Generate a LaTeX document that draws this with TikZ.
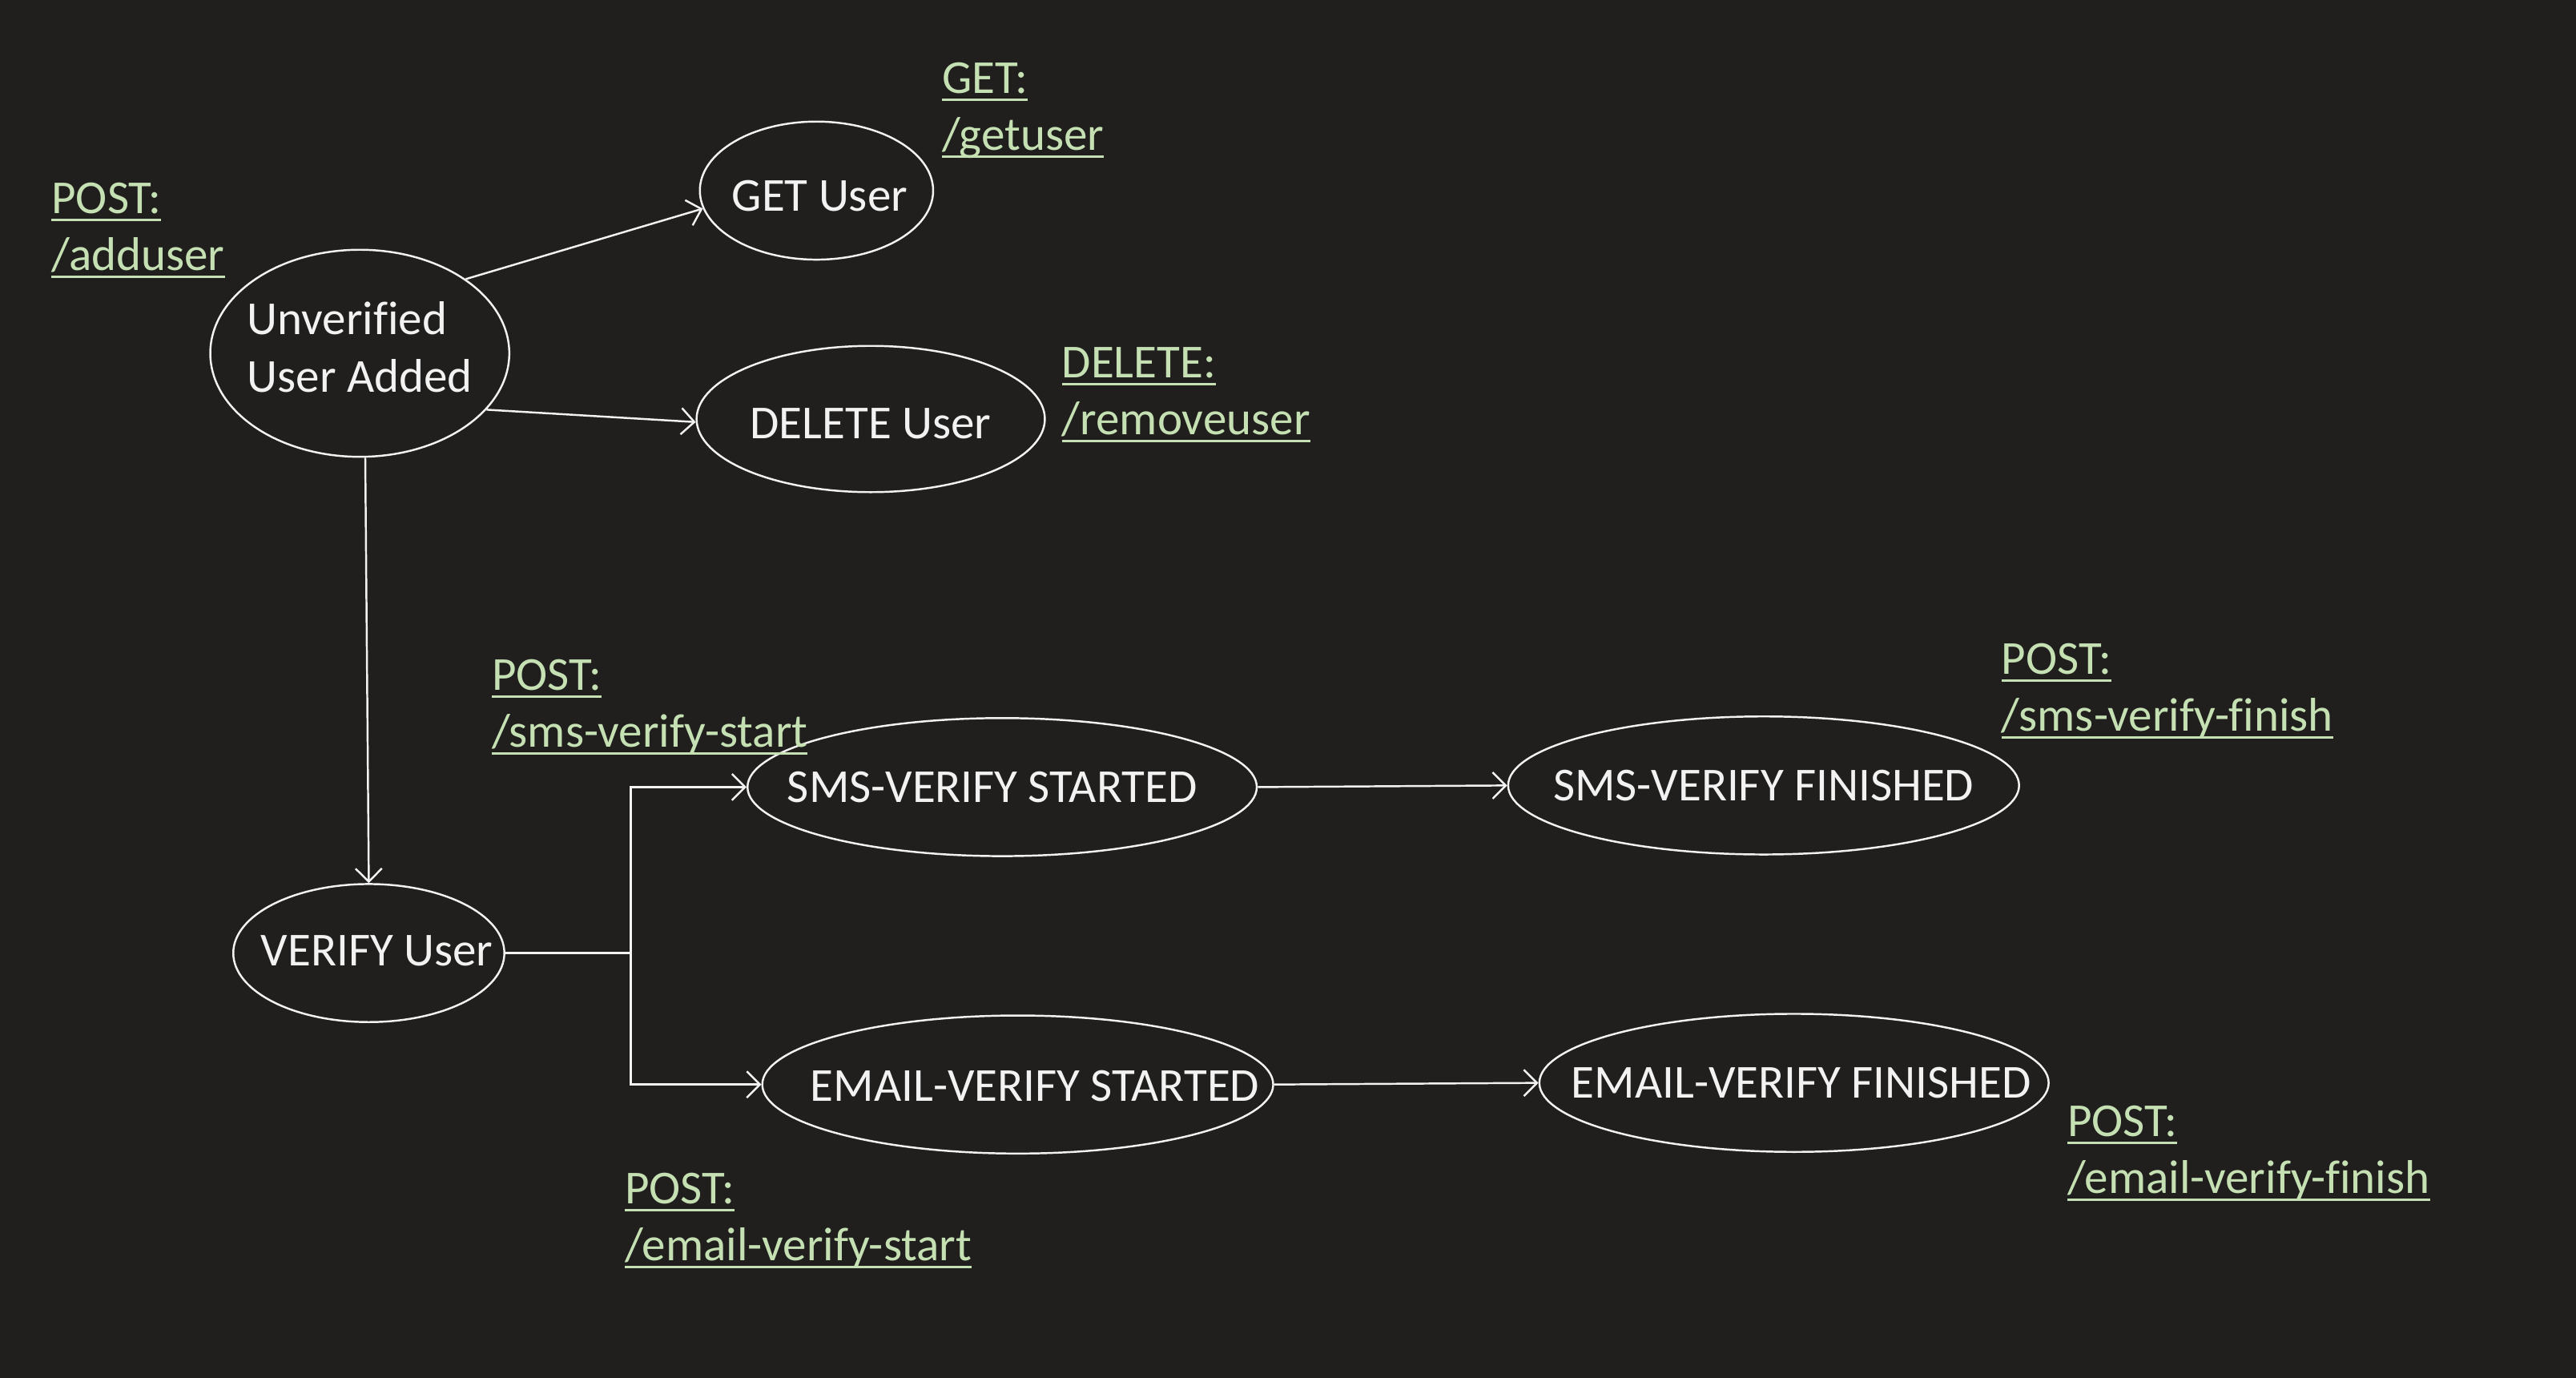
\documentclass[tikz,border=0pt]{standalone}
\usepackage{fontspec}
\setmainfont{Carlito}[Ligatures=NoCommon]
\usetikzlibrary{arrows.meta,shapes.geometric}
\definecolor{bg}{HTML}{201F1D}
\definecolor{lbl}{HTML}{C5E0B3}
\definecolor{fg}{HTML}{F2F2F2}
\newcommand\myul[1]{\setbox0=\hbox{#1}\rlap{\vrule width\wd0 height -0.11em depth 0.16em}\box0}
\newcommand\zw[2][0pt]{\makebox[0pt]{\raisebox{#1}[\height][\depth]{#2}}}
\begin{document}
\begin{tikzpicture}[x=0.5pt,y=-0.5pt,
  state/.style={ellipse,draw=fg,line width=0.6pt,text=fg,inner sep=0pt,font=\fontsize{14.4}{17.5}\selectfont},
  api/.style={anchor=base west,inner sep=0pt,text=lbl,font=\fontsize{14.4}{17.5}\selectfont},
  conn/.style={draw=fg,line width=0.6pt},
  arr/.style={conn,-{Straight Barb[length=4pt,width=8pt]}}]
\fill[bg] (0,0) rectangle (1568,838.6);
\useasboundingbox (0,0) rectangle (1568,838.6);

\node[state,minimum width=91pt,minimum height=63pt] (u) at (219,215) {\zw[0.5pt]{\begin{tabular}{@{}l@{}}Unverified\\User Added\end{tabular}}};
\node[state,minimum width=71pt,minimum height=42pt] (g) at (497,116) {\zw[-1.5pt]{\hspace*{2pt}GET User}};
\node[state,minimum width=106pt,minimum height=44.5pt] (d) at (530,255) {\zw[-1.5pt]{DELETE User}};
\node[state,minimum width=82.5pt,minimum height=42pt] (v) at (224.5,580) {\zw[0.8pt]{\hspace*{5pt}VERIFY User}};
\node[state,minimum width=155pt,minimum height=42pt] (s1) at (610,479) {\zw{SMS-VERIFY STARTED\hspace*{6pt}}};
\node[state,minimum width=155.5pt,minimum height=42pt] (s2) at (1073.5,478) {\zw{SMS-VERIFY FINISHED}};
\node[state,minimum width=155.5pt,minimum height=42pt] (e1) at (619.5,660) {\zw[-0.5pt]{\hspace*{10.5pt}EMAIL-VERIFY STARTED}};
\node[state,minimum width=155pt,minimum height=42pt] (e2) at (1092,659) {\zw{\hspace*{4.5pt}EMAIL-VERIFY FINISHED}};

\draw[arr] (u.35) -- (g.189);
\draw[arr] (u.336) -- (d.181);
\draw[arr] (u.273) -- (v.north);
\coordinate (j) at (384,580);
\draw[conn] (v.east) -- (j);
\draw[arr] (j) |- (s1.west);
\draw[arr] (j) |- (e1.west);
\draw[arr] (s1.east) -- (s2.west);
\draw[arr] (e1.east) -- (e2.west);

\node[api] (l1a) at (31,130) {\myul{POST:}};
\node[api] (l1b) at (31,164.5) {\myul{/adduser}};
\node[api] (l2a) at (573,57) {\myul{GET:}};
\node[api] (l2b) at (573,91.5) {\myul{/getuser}};
\node[api] (l3a) at (646,230) {\myul{DELETE:}};
\node[api] (l3b) at (646,264.5) {\myul{/removeuser}};
\node[api] (l4a) at (299,420) {\myul{POST:}};
\node[api] (l4b) at (299,454.5) {\myul{/sms-verify-start}};
\node[api] (l5a) at (1218,410.5) {\myul{POST:}};
\node[api] (l5b) at (1218,445) {\myul{/sms-verify-finish}};
\node[api] (l6a) at (1258,691.5) {\myul{POST:}};
\node[api] (l6b) at (1258,726) {\myul{/email-verify-finish}};
\node[api] (l7a) at (380,732.5) {\myul{POST:}};
\node[api] (l7b) at (380,767) {\myul{/email-verify-start}};
\end{tikzpicture}
\end{document}
